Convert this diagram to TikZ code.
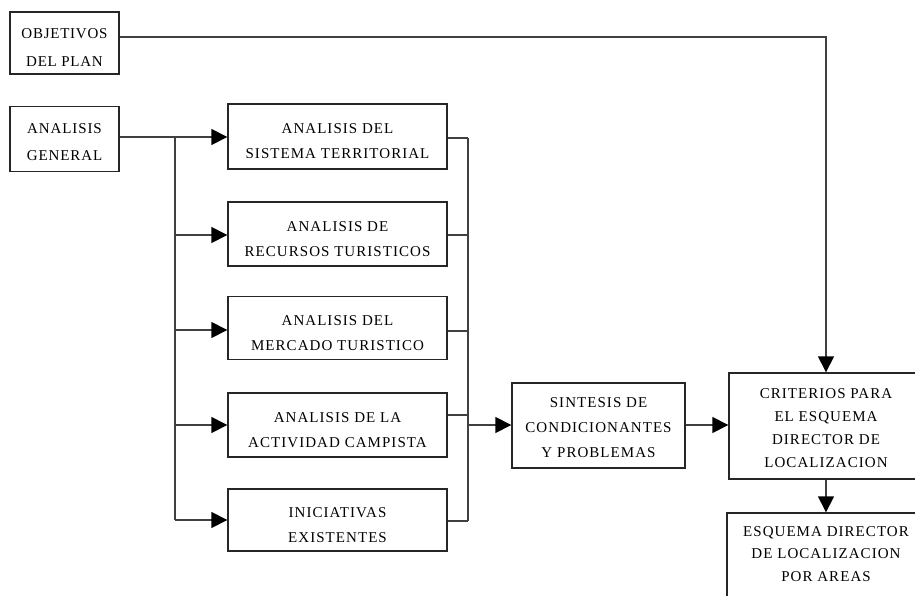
\documentclass[tikz,border=0pt]{standalone}
\usepackage{fontspec}
\setmainfont{Liberation Serif}
\usetikzlibrary{arrows.meta}
\newcommand\boxtext[2][-4pt]{\raisebox{#1}[\height][\depth]{\begin{tabular}{@{}c@{}}#2\end{tabular}}}
\begin{document}
\begin{tikzpicture}[x=1pt,y=-1pt,
  box/.style={draw=black!85, line width=1.4pt, inner sep=0pt,
    font=\fontsize{15}{25}\selectfont\addfontfeature{LetterSpace=7}},
  conn/.style={draw=black!75, line width=1.5pt},
  arr/.style={conn, -{Triangle[length=16pt,width=16pt,color=black]}}]
\clip (0,0) rectangle (915,596);
\fill[white] (0,0) rectangle (915,596);
% left boxes
\node[box, minimum width=109, minimum height=62, font=\fontsize{15}{28}\selectfont\addfontfeature{LetterSpace=5}] (obj) at (64.5,43) {\boxtext{OBJETIVOS\\DEL PLAN}};
\node[box, minimum width=109, minimum height=65, font=\fontsize{15}{27}\selectfont\addfontfeature{LetterSpace=6}] (gen) at (64.5,139) {\boxtext[-3pt]{ANALISIS\\GENERAL}};
% middle column
\node[box, minimum width=219, minimum height=65] (b1) at (337.5,136.5) {\boxtext[-5pt]{ANALISIS DEL\\SISTEMA TERRITORIAL}};
\node[box, minimum width=219, minimum height=64] (b2) at (337.5,234) {\boxtext[-5pt]{ANALISIS DE\\RECURSOS TURISTICOS}};
\node[box, minimum width=219, minimum height=63] (b3) at (337.5,328) {\boxtext[-5pt]{ANALISIS DEL\\MERCADO TURISTICO}};
\node[box, minimum width=219, minimum height=64] (b4) at (337.5,425) {\boxtext[-5pt]{ANALISIS DE LA\\ACTIVIDAD CAMPISTA}};
\node[box, minimum width=219, minimum height=62] (b5) at (337.5,520) {\boxtext[-5pt]{INICIATIVAS\\EXISTENTES}};
% synthesis
\node[box, minimum width=173, minimum height=85] (sin) at (598.5,425.5) {\boxtext[-2pt]{SINTESIS DE\\CONDICIONANTES\\Y PROBLEMAS}};
% right column
\node[box, minimum width=194, minimum height=106, font=\fontsize{15}{23}\selectfont\addfontfeature{LetterSpace=7}] (cri) at (826,426) {\boxtext[-2pt]{CRITERIOS PARA\\EL ESQUEMA\\DIRECTOR DE\\LOCALIZACION}};
\node[box, minimum width=198, minimum height=100, font=\fontsize{15}{22.5}\selectfont\addfontfeature{LetterSpace=7}] (esq) at (826,563) {\boxtext[9pt]{ESQUEMA DIRECTOR\\DE LOCALIZACION\\POR AREAS}};
% coordinates
\coordinate (tl) at (175,137);
\coordinate (tb) at (175,520);
\coordinate (cr) at (468,137);
\coordinate (cb) at (468,521);
% objetivos to criterios
\draw[arr] (obj.east |- 0,37) -| (cri.north);
% general to branches
\draw[arr] (gen.east |- 0,137) -- (b1.west |- 0,137);
\draw[conn] (tl) -- (tb);
\draw[arr] (tl |- 0,235) -- (b2.west |- 0,235);
\draw[arr] (tl |- 0,330) -- (b3.west |- 0,330);
\draw[arr] (tl |- 0,425) -- (b4.west |- 0,425);
\draw[arr] (tb) -- (b5.west |- tb);
% collector
\draw[conn] (b1.east |- 0,138) -- (cr |- 0,138);
\draw[conn] (b2.east |- 0,235) -- (cr |- 0,235);
\draw[conn] (b3.east |- 0,331) -- (cr |- 0,331);
\draw[conn] (b4.east |- 0,415) -- (cr |- 0,415);
\draw[conn] (b5.east |- cb) -- (cb);
\draw[conn] (cr |- 0,138) -- (cb);
\draw[arr] (cr |- 0,425) -- (sin.west |- 0,425);
% synthesis to criterios
\draw[arr] (sin.east |- 0,425) -- (cri.west |- 0,425);
% criterios to esquema
\draw[arr] (cri.south) -- (esq.north);
\end{tikzpicture}
\end{document}
